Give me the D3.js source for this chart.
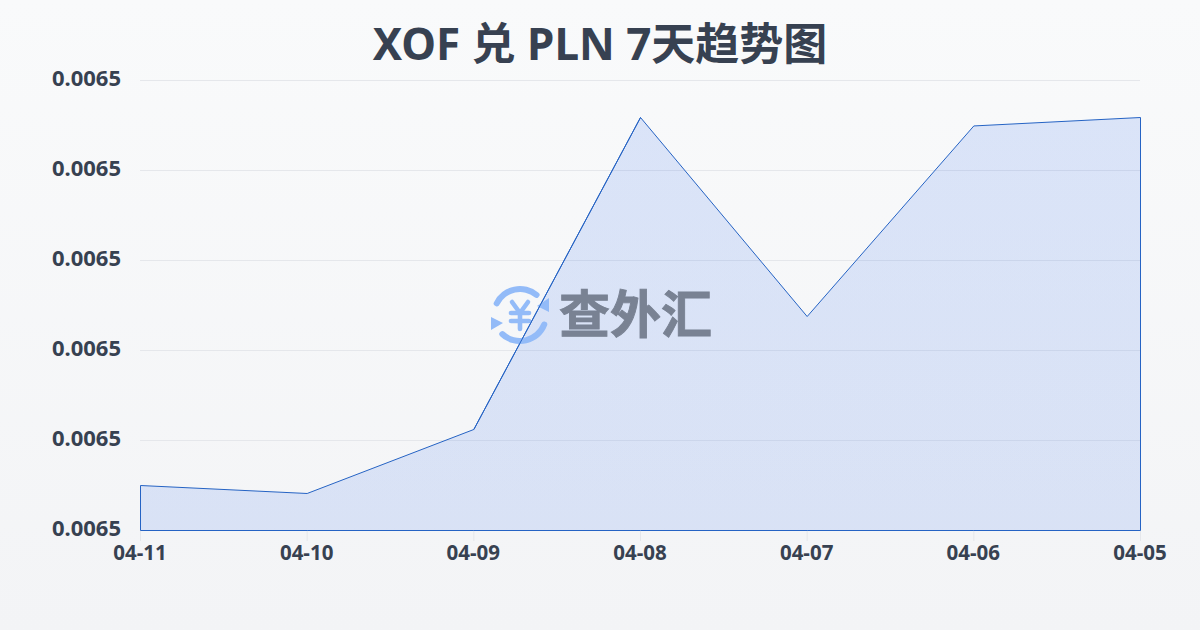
<!DOCTYPE html>
<html><head><meta charset="utf-8">
<script src="https://cdnjs.cloudflare.com/ajax/libs/d3/7.8.5/d3.min.js"></script>
<style>html,body{margin:0;padding:0;width:1200px;height:630px;overflow:hidden}svg{display:block}</style>
</head><body><svg id="c" width="1200" height="630"></svg>
<script>
const titleText = "XOF 兑 PLN 7天趋势图";
const dates = ["04-11","04-10","04-09","04-08","04-07","04-06","04-05"];
const rates = [0.00650400,0.00650329,0.00650898,0.00653671,0.00651902,0.00653596,0.00653671];
const yDomain = [0.00650,0.00654];
const yTicks = [0.006500,0.006508,0.006516,0.006524,0.006532,0.006540];
const font = '"Noto Sans","Noto Sans CJK SC",sans-serif';
const ink = "#374151";
const svg = d3.select("#c");
const defs = svg.append("defs");
const bg = defs.append("linearGradient").attr("id","bg").attr("x1",0).attr("y1",0).attr("x2",0).attr("y2",1);
bg.append("stop").attr("offset","0%").attr("stop-color","#f9fafb");
bg.append("stop").attr("offset","100%").attr("stop-color","#f3f4f6");
const af = defs.append("linearGradient").attr("id","af").attr("x1",0).attr("y1",0).attr("x2",0).attr("y2",1);
af.append("stop").attr("offset","0%").attr("stop-color","#2563eb").attr("stop-opacity",.14);
af.append("stop").attr("offset","100%").attr("stop-color","#2563eb").attr("stop-opacity",.13);
svg.append("rect").attr("width",1200).attr("height",630).attr("fill","url(#bg)");

const x = d3.scalePoint().domain(dates).range([140.5,1140.5]);
const y = d3.scaleLinear().domain(yDomain).range([530.5,80.5]);

svg.append("text").attr("x",600).attr("y",60).attr("text-anchor","middle")
  .attr("font-family",font).attr("font-weight",700).attr("font-size",44).attr("fill",ink).text(titleText);

// grid
svg.append("g").selectAll("line").data(yTicks).join("line")
  .attr("x1",140).attr("x2",1140)
  .attr("y1",d=>y(d)).attr("y2",d=>y(d))
  .attr("stroke","#e5e7eb").attr("stroke-width",1);

// y labels
svg.append("g").selectAll("text").data(yTicks).join("text")
  .attr("x",121).attr("y",d=>y(d)+5).attr("text-anchor","end")
  .attr("font-family",font).attr("font-weight",700).attr("font-size",22).attr("fill",ink)
  .text(d3.format(".4f"));

// x ticks
svg.append("g").selectAll("line").data(dates).join("line")
  .attr("x1",d=>x(d)).attr("x2",d=>x(d)).attr("y1",530).attr("y2",541)
  .attr("stroke","#e5e7eb").attr("stroke-width",1);
svg.append("g").selectAll("text").data(dates).join("text")
  .attr("x",d=>x(d)-.5).attr("y",560).attr("text-anchor","middle")
  .attr("font-family",font).attr("font-weight",700).attr("font-size",20.5).attr("fill",ink)
  .text(d=>d);

// area
const area = d3.area().x((d,i)=>x(dates[i])).y0(y(yDomain[0])).y1(d=>y(d));
svg.append("path").attr("d",area(rates)+"Z")
  .attr("fill","url(#af)").attr("stroke","#2563c4").attr("stroke-width",1);

// watermark
const wm = svg.append("g");
const blue = "#93bbf8";
const cx=520, cy=315;
const arc = d3.arc().innerRadius(23).outerRadius(29).cornerRadius(2.8);
wm.append("path").attr("transform",`translate(${cx},${cy})`).attr("fill",blue).attr("d",arc({startAngle:-1.22,endAngle:0.8}));
wm.append("path").attr("transform",`translate(${cx},${cy})`).attr("fill",blue).attr("d",arc({startAngle:1.83,endAngle:4.0}));
wm.append("path").attr("fill",blue).attr("d",d3.line()([[549,298],[549,312],[537,306]])+"Z");
wm.append("path").attr("fill",blue).attr("d",d3.line()([[491,317],[491,330],[503,323]])+"Z");
const yen = [[[512,302],[520,313]],[[528,302],[520,313]],[[520,313],[520,329]],[[511,313],[529,313]],[[511,321],[529,321]]];
wm.append("g").selectAll("path").data(yen).join("path").attr("d",d=>d3.line()(d))
  .attr("fill","none").attr("stroke",blue).attr("stroke-width",4.6).attr("stroke-linecap","round");
wm.append("text").attr("x",559).attr("y",333).attr("font-family",font).attr("font-weight",700)
  .attr("font-size",51).attr("fill","#798293").attr("stroke","#798293").attr("stroke-width",.9).text("查外汇");
// data line stays above the icon
const line = d3.line().x(d=>x(d.date)).y(d=>y(d.rate));
svg.append("path").attr("d",line([{date:dates[2],rate:rates[2]},{date:dates[3],rate:rates[3]}]))
  .attr("fill","none").attr("stroke","#2563c4").attr("stroke-width",1);
</script></body></html>
